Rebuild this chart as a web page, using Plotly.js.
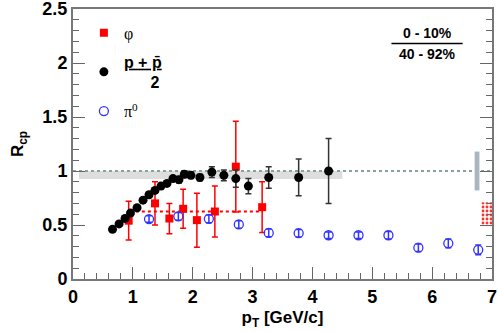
<!DOCTYPE html>
<html>
<head>
<meta charset="utf-8">
<script src="https://cdn.plot.ly/plotly-3.0.1.min.js"></script>
<style>
  html, body { margin: 0; padding: 0; background: #fff; }
  #plot { width: 498px; height: 332px; }
</style>
</head>
<body>
<div id="plot"></div>
<script>
// phi meson R_cp
var phiPt  = [0.93, 1.37, 1.61, 1.84, 2.07, 2.37, 2.72, 3.16];
var phiR   = [0.54, 0.70, 0.56, 0.65, 0.545, 0.625, 1.04, 0.665];
var phiErr = [0.18, 0.20, 0.14, 0.18, 0.25, 0.235, 0.42, 0.235];

// (p + pbar)/2
var pPt  = [0.66, 0.77, 0.87, 0.96, 1.07, 1.17, 1.27, 1.37, 1.47, 1.57, 1.67, 1.77, 1.86, 1.97, 2.12, 2.32, 2.52, 2.72, 2.93, 3.27, 3.77, 4.27];
var pR   = [0.46, 0.51, 0.56, 0.61, 0.66, 0.73, 0.78, 0.82, 0.86, 0.885, 0.93, 0.92, 0.97, 0.96, 0.94, 0.99, 0.96, 0.93, 0.86, 0.94, 0.94, 1.00];
var pErr = [0.01, 0.01, 0.01, 0.01, 0.01, 0.01, 0.01, 0.015, 0.015, 0.02, 0.02, 0.03, 0.03, 0.03, 0.03, 0.05, 0.05, 0.08, 0.07, 0.10, 0.17, 0.30];

// pi0
var piPt  = [1.27, 1.76, 2.27, 2.77, 3.27, 3.77, 4.27, 4.77, 5.27, 5.77, 6.27, 6.77];
var piR   = [0.555, 0.58, 0.557, 0.505, 0.427, 0.424, 0.405, 0.405, 0.405, 0.29, 0.33, 0.27];
var piErr = [0.03, 0.035, 0.035, 0.035, 0.035, 0.035, 0.03, 0.03, 0.035, 0.035, 0.04, 0.045];

// phi mean level and its range
var phiMean = 0.625;
var phiMeanRange = [0.95, 3.17];

// grey band (proton syst.) and normalisation boxes
var bandX = [0.1, 4.5];
var bandY = [0.925, 1.0];
var normBoxX = [6.71, 6.79];
var normBoxY = [0.82, 1.18];
var phiNormX = [6.82, 7.0];
var phiNormY = [0.49, 0.71];

var sans = "Liberation Sans, Arial, sans-serif";
var greek = "<span style='font-family:Liberation Serif, serif'>";

var traces = [
  {
    x: phiPt, y: phiR, type: "scatter", mode: "markers", name: greek + "φ</span>",
    legendgroup: "a",
    marker: {symbol: "square", size: 8, color: "#ff0000"},
    error_y: {type: "data", array: phiErr, color: "#ff0000", thickness: 1.5, width: 3}
  },
  {
    x: pPt, y: pR, type: "scatter", mode: "markers",
    name: "<b><u>p + p̄</u></b><br><b>      2</b>",
    legendgroup: "b",
    marker: {symbol: "circle", size: 9, color: "#000000"},
    error_y: {type: "data", array: pErr, color: "#333333", thickness: 1.5, width: 3}
  },
  {
    x: piPt, y: piR, type: "scatter", mode: "markers", name: greek + "π<sup>0</sup></span>",
    legendgroup: "c",
    marker: {symbol: "circle-open", size: 9, color: "#3333ff", line: {width: 1.3}},
    error_y: {type: "data", array: piErr, color: "#3333ff", thickness: 1.5, width: 3}
  },
  {
    // phi normalisation box, hatched
    x: [phiNormX[0], phiNormX[1], phiNormX[1], phiNormX[0], phiNormX[0]],
    y: [phiNormY[0], phiNormY[0], phiNormY[1], phiNormY[1], phiNormY[0]],
    type: "scatter", mode: "lines", fill: "toself", showlegend: false,
    line: {width: 0, color: "rgba(0,0,0,0)"},
    fillcolor: "rgba(255,255,255,0)",
    fillpattern: {shape: ".", fgcolor: "#ff3030", bgcolor: "#ffffff", size: 4, solidity: 0.4},
    hoverinfo: "skip"
  }
];

var layout = {
  width: 498, height: 332,
  margin: {l: 73, r: 6, t: 9, b: 53},
  paper_bgcolor: "#ffffff",
  plot_bgcolor: "#ffffff",
  font: {family: sans, size: 17, color: "#000"},
  showlegend: true,
  legend: {
    x: 0.026, y: 0.975, xanchor: "left", yanchor: "top",
    bgcolor: "rgba(0,0,0,0)", borderwidth: 0,
    font: {family: sans, size: 16, color: "#000"},
    tracegroupgap: 5, itemwidth: 30
  },
  xaxis: {
    range: [0, 7.0001], dtick: 1, tick0: 0,
    ticks: "inside", ticklen: 12, tickwidth: 1, tickcolor: "#666",
    minor: {dtick: 0.2, ticks: "inside", ticklen: 6, tickcolor: "#666"},
    showline: true, linecolor: "#777", linewidth: 2, mirror: true,
    showgrid: false, zeroline: false,
    tickprefix: "<b>", ticksuffix: "</b>", ticklabeloverflow: "allow",
    tickfont: {family: sans, size: 18},
    title: {text: "<b>p<sub>T</sub> [GeV/c]</b>", font: {family: sans, size: 17}, standoff: 6}
  },
  yaxis: {
    range: [0, 2.5001], dtick: 0.5, tick0: 0,
    ticks: "inside", ticklen: 12, tickwidth: 1, tickcolor: "#666",
    minor: {dtick: 0.1, ticks: "inside", ticklen: 6, tickcolor: "#666"},
    showline: true, linecolor: "#777", linewidth: 2, mirror: "ticks",
    showgrid: false, zeroline: false,
    tickprefix: "<b>", ticksuffix: "</b>", ticklabeloverflow: "allow",
    tickfont: {family: sans, size: 18},
    title: {text: "<b>R<sub>cp</sub></b>", font: {family: sans, size: 17}, standoff: 14}
  },
  shapes: [
    {type: "rect", xref: "x", yref: "y", x0: bandX[0], x1: bandX[1], y0: bandY[0], y1: bandY[1],
     fillcolor: "#dedede", line: {width: 0}, layer: "below"},
    {type: "line", xref: "x", yref: "y", x0: 0, x1: 7, y0: 1, y1: 1,
     line: {color: "#86a496", width: 2, dash: "dot"}, layer: "below"},
    {type: "rect", xref: "x", yref: "y", x0: normBoxX[0], x1: normBoxX[1], y0: normBoxY[0], y1: normBoxY[1],
     fillcolor: "#a9b6be", line: {width: 0}},
    {type: "line", xref: "x", yref: "y", x0: phiMeanRange[0], x1: phiMeanRange[1], y0: phiMean, y1: phiMean,
     line: {color: "#ff0000", width: 2, dash: "dot"}, layer: "below"},
    {type: "line", xref: "paper", yref: "paper", x0: 0.76, x1: 0.93, y0: 0.872, y1: 0.872,
     line: {color: "#000", width: 1.5}}
  ],
  annotations: [
    {xref: "paper", yref: "paper", x: 0.845, y: 0.875, xanchor: "center", yanchor: "bottom", showarrow: false,
     text: "<b>0 - 10%</b>", font: {family: sans, size: 14}},
    {xref: "paper", yref: "paper", x: 0.845, y: 0.87, xanchor: "center", yanchor: "top", showarrow: false,
     text: "<b>40 - 92%</b>", font: {family: sans, size: 14}}
  ]
};

Plotly.newPlot("plot", traces, layout, {displayModeBar: false, staticPlot: true});
</script>
</body>
</html>
